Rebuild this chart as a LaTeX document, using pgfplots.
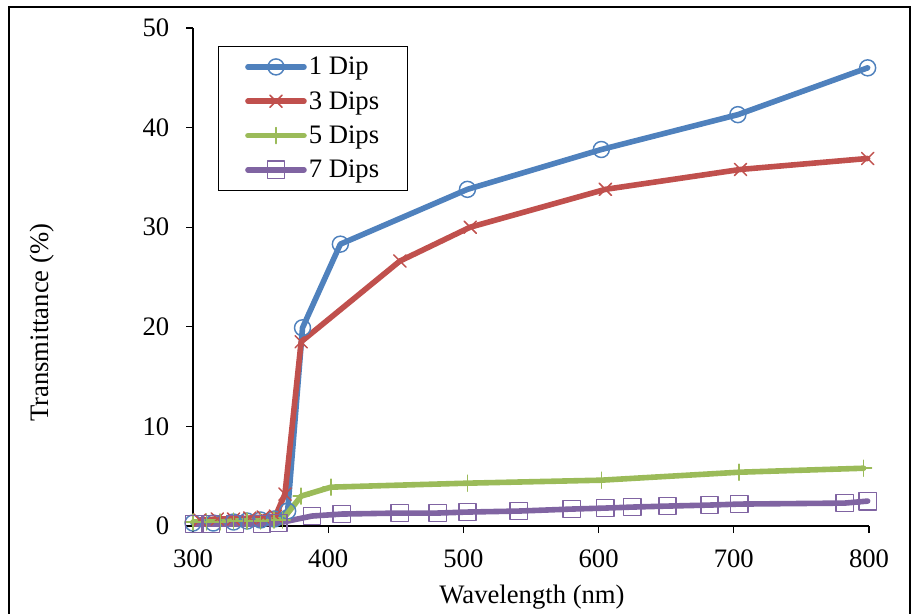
\documentclass[border=0pt]{standalone}
\usepackage{pgfplots}
\pgfplotsset{compat=1.18}
\usepackage{fontspec}
\setmainfont{Liberation Serif}
\definecolor{cBlue}{HTML}{4F81BD}
\definecolor{cRed}{HTML}{C0504D}
\definecolor{cGreen}{HTML}{9BBB59}
\definecolor{cPurple}{HTML}{8064A2}
\begin{document}
\begin{tikzpicture}
\useasboundingbox (0,0) rectangle (684pt,459.75pt);
\draw[line width=1.1pt] (6.75pt,-5pt) -- (6.75pt,454.5pt) -- (682.5pt,454.5pt) -- (682.5pt,-5pt);
\begin{axis}[
  at={(144.75pt,65.25pt)}, anchor=south west,
  scale only axis, width=507pt, height=373.5pt,
  xmin=300, xmax=800, ymin=0, ymax=50,
  axis lines*=left,
  axis line style={line width=1pt},
  xtick={300,400,...,800}, ytick={0,10,...,50},
  tick align=outside, major tick length=5.25pt,
  tick style={line width=1pt, black},
  /pgf/number format/assume math mode=true,
  tick label style={font=\fontsize{20}{24}\selectfont},
  xticklabel style={yshift=-9pt},
  yticklabel style={xshift=-9pt},
  xlabel={Wavelength (nm)}, ylabel={Transmittance (\%)},
  every axis x label/.style={at={(axis description cs:0.5015,-0.1426)}, anchor=center, font=\fontsize{20}{24}\selectfont},
  every axis y label/.style={at={(axis description cs:-0.2234,0.408)}, anchor=center, rotate=90, font=\fontsize{20}{24}\selectfont},
  clip=false,
  legend cell align=left,
  legend style={at={(0.037,0.964)}, anchor=north west, draw=black, line width=0.75pt,
    font=\fontsize{20}{24}\selectfont, inner xsep=20pt, inner ysep=7pt, row sep=9pt,
    nodes={inner xsep=1.5pt, inner ysep=1pt}},
  legend image code/.code={\draw[mark repeat=2,mark phase=2] plot coordinates {(0pt,0pt)(21pt,0pt)(42pt,0pt)};},
  every axis plot/.append style={line width=4.2pt, line join=round, line cap=round},
]
\addplot[cBlue, mark=o, mark size=6pt, mark options={line width=1.1pt, solid, fill=none}] coordinates {
(300,0.3)(315,0.3)(330,0.4)(340,0.5)(350,0.6)(360,0.7)(370,1.5)(381,19.9)(409,28.3)(503,33.8)(602,37.8)(703,41.3)(799,46.0)};
\addlegendentry{1 Dip}
\addplot[cRed, mark=x, mark size=6.5pt, mark options={line width=1.1pt}] coordinates {
(305,0.6)(318,0.7)(330,0.7)(342,0.8)(352,0.9)(361,1.0)(368,3.2)(380,18.5)(453,26.6)(505,30.0)(605,33.8)(705,35.8)(799,36.9)};
\addlegendentry{3 Dips}
\addplot[cGreen, mark=+, mark size=6pt, mark options={line width=1.1pt}] coordinates {
(300,0.4)(310,0.4)(320,0.4)(330,0.5)(340,0.5)(350,0.5)(360,0.6)(366,0.6)(380,3.0)(402,3.9)(503,4.3)(602,4.6)(704,5.4)(796,5.8)};
\addlegendentry{5 Dips}
\addplot[cPurple, mark=square, mark size=6.5pt, mark options={line width=1.1pt, fill=none}] coordinates {
(301,0.2)(313,0.2)(331,0.2)(351,0.2)(363,0.3)(388,1.0)(410,1.2)(453,1.3)(481,1.3)(503,1.4)(541,1.5)(580,1.7)(605,1.8)(625,1.9)(651,2.0)(682,2.1)(704,2.2)(782,2.3)(799,2.5)};
\addlegendentry{7 Dips}
\end{axis}
\end{tikzpicture}
\end{document}
